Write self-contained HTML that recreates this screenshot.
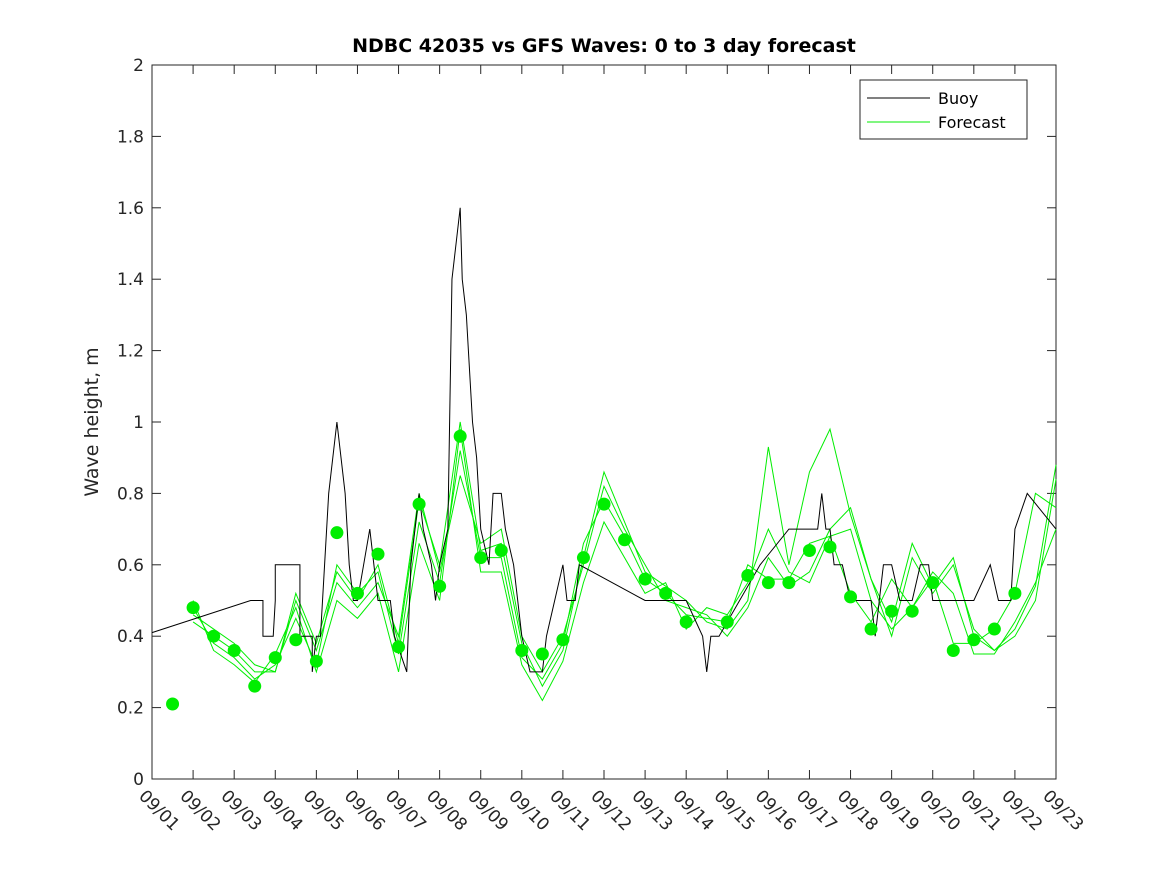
<!DOCTYPE html>
<html><head><meta charset="utf-8"><style>
body{margin:0;background:#fff}
svg{display:block;font-family:"DejaVu Sans","Liberation Sans",sans-serif}
</style></head><body>
<svg id="chart" width="1167" height="875" viewBox="0 0 1167 875">
<rect width="1167" height="875" fill="#fff"/>
<text x="604" y="52" text-anchor="middle" font-size="19" font-weight="bold" fill="#000">NDBC 42035 vs GFS Waves: 0 to 3 day forecast</text>
<text transform="translate(98,422) rotate(-90)" text-anchor="middle" font-size="19" fill="#262626">Wave height, m</text>
<g id="axes"></g>
<g id="plot"></g>
<g>
<rect x="860" y="80" width="167" height="59" fill="#fff" stroke="#262626" stroke-width="1"/>
<line x1="867" y1="98" x2="930" y2="98" stroke="#000" stroke-width="1"/>
<text x="938" y="104" font-size="16" fill="#000">Buoy</text>
<line x1="867" y1="122" x2="930" y2="122" stroke="#00ee00" stroke-width="1"/>
<text x="938" y="128" font-size="16" fill="#000">Forecast</text>
</g>
</svg>
<script>
const yTicks=[0,0.2,0.4,0.6,0.8,1,1.2,1.4,1.6,1.8,2];
const xTickLabels=["09/01","09/02","09/03","09/04","09/05","09/06","09/07","09/08","09/09","09/10","09/11","09/12","09/13","09/14","09/15","09/16","09/17","09/18","09/19","09/20","09/21","09/22","09/23"];
const buoyT=[0,2.4,2.7,2.7,2.95,3.0,3.0,3.6,3.6,3.9,3.9,4.0,4.1,4.15,4.2,4.3,4.4,4.5,4.6,4.7,4.8,4.9,5.0,5.15,5.3,5.4,5.5,5.8,5.9,6.2,6.3,6.5,6.6,6.8,6.9,7.0,7.2,7.3,7.4,7.5,7.55,7.65,7.7,7.8,7.9,8.0,8.2,8.3,8.5,8.6,8.8,9.0,9.2,9.5,9.6,9.8,10.0,10.1,10.3,10.4,12.0,13.0,13.4,13.5,13.6,13.8,14.8,15.5,16.2,16.3,16.4,16.5,16.6,16.8,17.0,17.5,17.6,17.7,17.8,18.0,18.2,18.5,18.7,18.9,19.0,19.4,20.0,20.4,20.6,20.9,21.0,21.3,22.0];
const buoyV=[.41,.50,.50,.40,.40,.50,.60,.60,.40,.40,.30,.40,.40,.50,.60,.80,.90,1.0,.90,.80,.60,.50,.50,.60,.70,.60,.50,.50,.40,.30,.60,.80,.70,.60,.50,.60,.70,1.4,1.5,1.6,1.4,1.3,1.2,1.0,.90,.70,.60,.80,.80,.70,.60,.40,.30,.30,.40,.50,.60,.50,.50,.60,.50,.50,.40,.30,.40,.40,.60,.70,.70,.80,.70,.70,.60,.60,.50,.50,.40,.50,.60,.60,.50,.50,.60,.60,.50,.50,.50,.60,.50,.50,.70,.80,.70];
const fcStart=1, fcStep=0.5;
const fc1=[.48,.38,.34,.28,.32,.45,.32,.60,.52,.58,.35,.72,.55,.92,.62,.62,.34,.28,.38,.66,.78,.68,.56,.52,.46,.45,.44,.60,.56,.56,.66,.68,.52,.44,.56,.48,.56,.38,.38,.42,.52,.80,.76];
const fc2=[.44,.40,.36,.30,.30,.50,.36,.55,.48,.55,.40,.80,.58,.85,.66,.70,.40,.30,.40,.60,.82,.70,.60,.50,.48,.46,.40,.48,.62,.54,.58,.70,.76,.56,.40,.62,.52,.60,.42,.36,.40,.50,.84];
const fc3=[.50,.36,.32,.27,.35,.48,.30,.50,.45,.52,.30,.66,.50,.98,.58,.58,.32,.22,.33,.55,.72,.62,.52,.55,.42,.48,.46,.55,.70,.58,.55,.68,.70,.50,.42,.48,.58,.52,.35,.35,.44,.55,.70];
const fc4=[.46,.42,.38,.32,.30,.52,.38,.58,.50,.60,.38,.78,.60,1.0,.64,.66,.38,.26,.36,.62,.86,.72,.58,.54,.50,.44,.42,.50,.93,.60,.86,.98,.74,.56,.44,.66,.54,.62,.40,.36,.42,.54,.88];
const dotT=[0.5,1,1.5,2,2.5,3,3.5,4,4.5,5,5.5,6,6.5,7,7.5,8,8.5,9,9.5,10,10.5,11,11.5,12,12.5,13,14,14.5,15,15.5,16,16.5,17,17.5,18,18.5,19,19.5,20,20.5,21];
const dotV=[.21,.48,.40,.36,.26,.34,.39,.33,.69,.52,.63,.37,.77,.54,.96,.62,.64,.36,.35,.39,.62,.77,.67,.56,.52,.44,.44,.57,.55,.55,.64,.65,.51,.42,.47,.47,.55,.36,.39,.42,.52];

const L=152,R=1056,T=65,B=779;
const xs=d=>L+d*(R-L)/22, ys=v=>B-v*(B-T)/2;
const NS="http://www.w3.org/2000/svg";
function mk(tag,attrs,parent){const e=document.createElementNS(NS,tag);for(const k in attrs)e.setAttribute(k,attrs[k]);parent.appendChild(e);return e;}
const ax=document.getElementById('axes'), pl=document.getElementById('plot');
const box=mk('rect',{x:L,y:T,width:R-L,height:B-T,fill:'#fff',stroke:'#262626','stroke-width':1},ax);


yTicks.forEach(v=>{const y=ys(v);
 mk('line',{x1:L,y1:y,x2:L+9,y2:y,stroke:'#262626'},ax);
 mk('line',{x1:R,y1:y,x2:R-9,y2:y,stroke:'#262626'},ax);
 const t=mk('text',{x:L-8,y:y+6,'text-anchor':'end','font-size':17,fill:'#262626'},ax);t.textContent=String(v);
 
 
});
xTickLabels.forEach((s,i)=>{const x=xs(i);
 mk('line',{x1:x,y1:B,x2:x,y2:B-9,stroke:'#262626'},ax);
 mk('line',{x1:x,y1:T,x2:x,y2:T+9,stroke:'#262626'},ax);
 const t=mk('text',{transform:`translate(${x-14},${B+18}) rotate(45)`,'font-size':17,fill:'#262626'},ax);t.textContent=s;
 
 
});
[fc1,fc2,fc3,fc4].forEach((arr,k)=>{
 const p=arr.map((v,i)=>xs(fcStart+i*fcStep)+','+ys(v)).join(' ');
 const e=mk('polyline',{points:p,fill:'none',stroke:'#00ee00','stroke-width':1},pl);
 
 
});
const bp=buoyT.map((t,i)=>xs(t)+','+ys(buoyV[i])).join(' ');
const bl=mk('polyline',{points:bp,fill:'none',stroke:'#000','stroke-width':1},pl);


dotT.forEach((t,i)=>{
 const c=mk('circle',{cx:xs(t),cy:ys(dotV[i]),r:6.5,fill:'#00ee00'},pl);
 
 
});
</script>
</body></html>
